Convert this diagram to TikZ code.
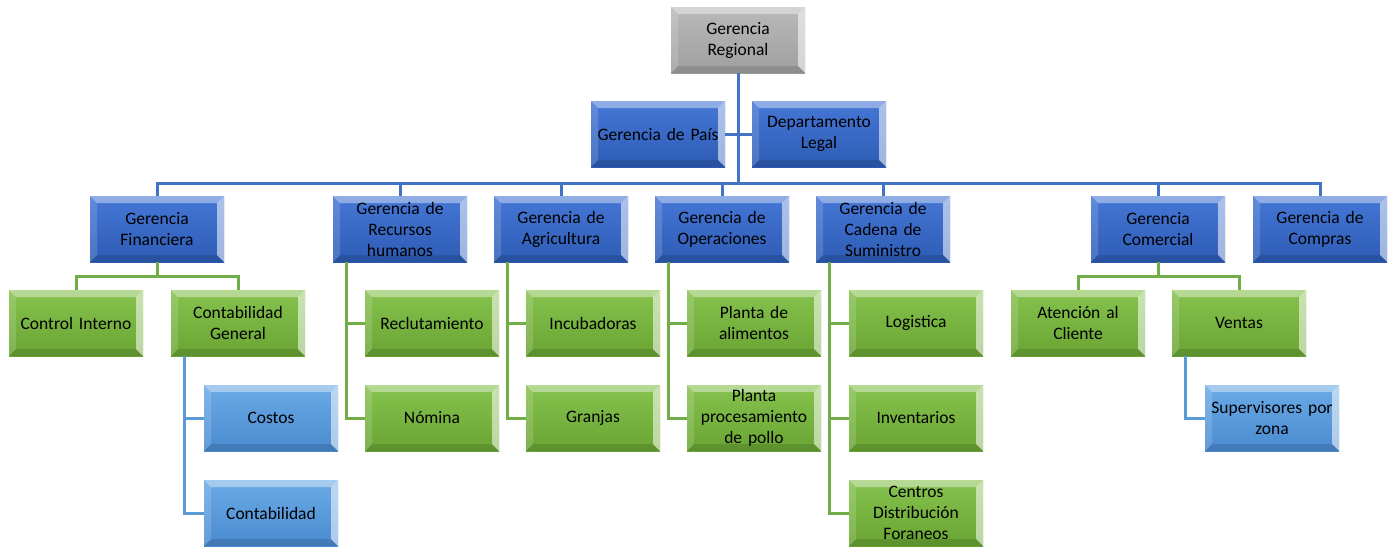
\documentclass[tikz,border=0pt]{standalone}
\usepackage{fontspec}
\setmainfont{Carlito}[WordSpace=0.8]
\begin{document}
\begin{tikzpicture}[x=1pt,y=-1pt,
  bevel/.style={path picture={
    \fill[white,opacity=.40] (path picture bounding box.north west) -- (path picture bounding box.north east) -- ([xshift=-7pt,yshift=-7pt]path picture bounding box.north east) -- ([xshift=7pt,yshift=-7pt]path picture bounding box.north west) -- cycle;
    \fill[white,opacity=.15] (path picture bounding box.north west) -- (path picture bounding box.south west) -- ([xshift=7pt,yshift=7pt]path picture bounding box.south west) -- ([xshift=7pt,yshift=-7pt]path picture bounding box.north west) -- cycle;
    \fill[white,opacity=.55] (path picture bounding box.north east) -- (path picture bounding box.south east) -- ([xshift=-7pt,yshift=7pt]path picture bounding box.south east) -- ([xshift=-7pt,yshift=-7pt]path picture bounding box.north east) -- cycle;
    \fill[black,opacity=.12] (path picture bounding box.south west) -- (path picture bounding box.south east) -- ([xshift=-7pt,yshift=7pt]path picture bounding box.south east) -- ([xshift=7pt,yshift=7pt]path picture bounding box.south west) -- cycle;
  }},
  box/.style={bevel,minimum width=134pt,minimum height=66pt,inner sep=0pt,text width=132pt,align=center,
    font=\fontsize{17.5}{21}\selectfont,text=black},
  gray box/.style={box,top color=gray!55,bottom color=gray!75},
  dblue/.style={box,top color=dbA,bottom color=dbB},
  green box/.style={box,top color=grA,bottom color=grB},
  lblue/.style={box,top color=lbA,bottom color=lbB},
  bl/.style={draw=lineB,line width=3pt},
  gl/.style={draw=lineG,line width=3pt},
  ll/.style={draw=lineL,line width=3pt}
]
\definecolor{dbA}{HTML}{4677D6}
\definecolor{dbB}{HTML}{2D5CB5}
\definecolor{grA}{HTML}{86C24E}
\definecolor{grB}{HTML}{6AA533}
\definecolor{lbA}{HTML}{6AAAE6}
\definecolor{lbB}{HTML}{4A8BD0}
\definecolor{lineB}{HTML}{4472C4}
\definecolor{lineG}{HTML}{70AD47}
\definecolor{lineL}{HTML}{5B9BD5}
\useasboundingbox[fill=white] (0,0) rectangle (1392,547);

\coordinate (busA) at (738,183);
\coordinate (finbus) at (157,276);
\coordinate (combus) at (1158,276);

\node[gray box] (GR) at (738,40) {Gerencia\\Regional};
\node[dblue] (Pais) at (658,134) {Gerencia de País};
\node[dblue] (Legal) at (819,134) {Departamento\\Legal};

\node[dblue] (Fin) at (157,229) {Gerencia\\Financiera};
\node[dblue] (RH) at (400,229) {Gerencia de\\Recursos\\humanos};
\node[dblue] (Agr) at (561,229) {Gerencia de\\Agricultura};
\node[dblue] (Op) at (722,229) {Gerencia de\\Operaciones};
\node[dblue] (Cad) at (883,229) {Gerencia de\\Cadena de\\Suministro};
\node[dblue] (Com) at (1158,229) {Gerencia\\Comercial};
\node[dblue] (Comp) at (1320,229) {Gerencia de\\Compras};

\node[green box] (CI) at (76,323) {Control Interno};
\node[green box] (CG) at (238,323) {Contabilidad\\General};
\node[green box] (Rec) at (432,323) {Reclutamiento};
\node[green box] (Inc) at (593,323) {Incubadoras};
\node[green box] (PA) at (754,323) {Planta de\\alimentos};
\node[green box] (Log) at (916,323) {Logistica};
\node[green box] (At) at (1078,323) {Atención al\\Cliente};
\node[green box] (Ven) at (1239,323) {Ventas};

\node[lblue] (Cos) at (271,418) {Costos};
\node[green box] (Nom) at (432,418) {Nómina};
\node[green box] (Gra) at (593,418) {Granjas};
\node[green box] (PP) at (754,418) {Planta\\procesamiento\\de pollo};
\node[green box] (Inv) at (916,418) {Inventarios};
\node[lblue] (Sup) at (1272,418) {Supervisores por\\zona};

\node[lblue] (Cont) at (271,513) {Contabilidad};
\node[green box] (Cen) at (916,513) {Centros\\Distribución\\Foraneos};

% main tree
\draw[bl] (GR.south) -- (busA);
\draw[bl] (Pais.east) -- (Legal.west);
\foreach \n in {Fin,RH,Agr,Op,Cad,Com,Comp}{\draw[bl] (\n.north) |- (busA);}
% Financiera
\draw[gl] (Fin.south) -- (finbus);
\draw[gl] (CI.north) |- (finbus);
\draw[gl] (CG.north) |- (finbus);
% Contabilidad General
\draw[ll] ([xshift=-54pt]CG.south) |- (Cos.west);
\draw[ll] ([xshift=-54pt]CG.south) |- (Cont.west);
% RH
\draw[gl] ([xshift=-54pt]RH.south) |- (Rec.west);
\draw[gl] ([xshift=-54pt]RH.south) |- (Nom.west);
% Agricultura
\draw[gl] ([xshift=-54pt]Agr.south) |- (Inc.west);
\draw[gl] ([xshift=-54pt]Agr.south) |- (Gra.west);
% Operaciones
\draw[gl] ([xshift=-54pt]Op.south) |- (PA.west);
\draw[gl] ([xshift=-54pt]Op.south) |- (PP.west);
% Cadena
\draw[gl] ([xshift=-54pt]Cad.south) |- (Log.west);
\draw[gl] ([xshift=-54pt]Cad.south) |- (Inv.west);
\draw[gl] ([xshift=-54pt]Cad.south) |- (Cen.west);
% Comercial
\draw[gl] (Com.south) -- (combus);
\draw[gl] (At.north) |- (combus);
\draw[gl] (Ven.north) |- (combus);
% Ventas
\draw[ll] ([xshift=-54pt]Ven.south) |- (Sup.west);
\end{tikzpicture}
\end{document}
